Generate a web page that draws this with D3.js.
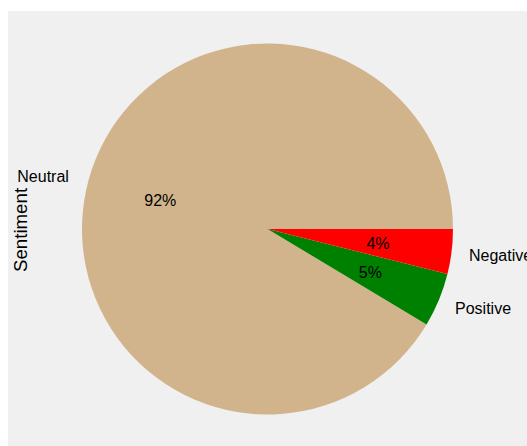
<!DOCTYPE html>
<html>
<head>
<meta charset="utf-8">
<script src="https://cdn.jsdelivr.net/npm/d3@7"></script>
<style>
html,body{margin:0;padding:0;background:#ffffff;}
svg{display:block;}
text{font-family:"Liberation Sans", Arial, sans-serif;fill:#000;}
</style>
</head>
<body>
<svg id="chart" width="527" height="446"></svg>
<script>
const categories = ["Neutral", "Positive", "Negative"];
const values = [91.4, 4.7, 3.9];
const pctLabels = ["92%", "5%", "4%"];
const colors = ["#d2b48c", "#008000", "#ff0000"];
const axisLabel = "Sentiment";

const svg = d3.select("#chart");
svg.append("rect").attr("x", 8).attr("y", 11).attr("width", 519).attr("height", 435).attr("fill", "#f0f0f0");

const cx = 267.5, cy = 229, r = 185.5;
const data = categories.map((c, i) => ({name: c, value: values[i], pct: pctLabels[i], color: colors[i]}));

const pie = d3.pie().sort(null).value(d => d.value)
  .startAngle(Math.PI / 2).endAngle(Math.PI / 2 - 2 * Math.PI);
const arcs = pie(data);
const arc = d3.arc().innerRadius(0).outerRadius(r);

const g = svg.append("g").attr("transform", `translate(${cx},${cy})`);
g.selectAll("path.slice").data(arcs).enter().append("path")
  .attr("class", "slice")
  .attr("d", arc)
  .attr("fill", d => d.data.color);

function pos(d, k) {
  const a = (d.startAngle + d.endAngle) / 2;
  return [Math.sin(a) * r * k, -Math.cos(a) * r * k];
}

g.selectAll("text.lab").data(arcs).enter().append("text")
  .attr("class", "lab")
  .attr("x", d => pos(d, 1.1)[0] + (pos(d, 1.1)[0] >= 0 ? -1 : -2))
  .attr("y", d => pos(d, 1.1)[1])
  .attr("dy", "0.45em")
  .attr("text-anchor", d => pos(d, 1.1)[0] >= 0 ? "start" : "end")
  .style("font-size", "16px")
  .text(d => d.data.name);

g.selectAll("text.pct").data(arcs).enter().append("text")
  .attr("class", "pct")
  .attr("x", d => pos(d, 0.6)[0])
  .attr("y", d => pos(d, 0.6)[1])
  .attr("dy", "0.42em")
  .attr("text-anchor", "middle")
  .style("font-size", "16px")
  .text(d => d.data.pct);

svg.append("text")
  .attr("transform", `translate(27,${cy + 1}) rotate(-90)`)
  .attr("text-anchor", "middle")
  .style("font-size", "18.7px")
  .text(axisLabel);
</script>
</body>
</html>
